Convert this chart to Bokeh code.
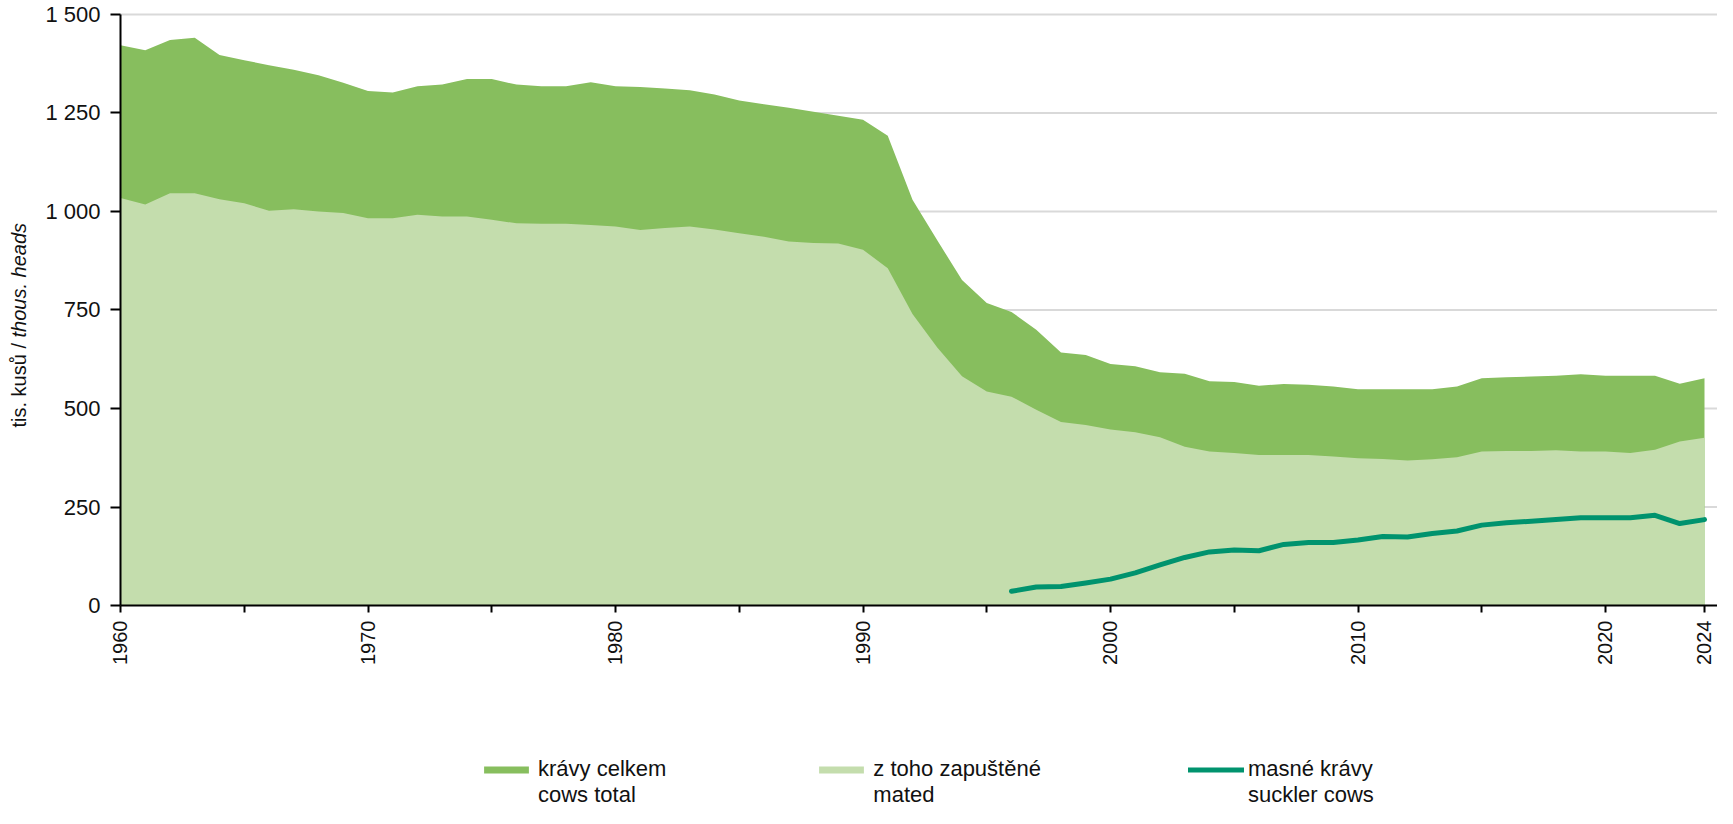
import math
from bokeh.plotting import figure
from bokeh.models import (ColumnDataSource, FixedTicker, Legend, LegendItem,
                          Range1d, Label)
from bokeh.embed import file_html
from bokeh.resources import INLINE

# ---------------- data (thousand heads) ----------------
years = list(range(1960, 2025))

cows_total = [
    1422, 1409, 1435, 1441, 1397, 1384, 1371, 1360, 1346, 1327,   # 1960-1969
    1306, 1302, 1318, 1322, 1336, 1336, 1322, 1318, 1318, 1328,   # 1970-1979
    1318, 1316, 1312, 1308, 1297, 1282, 1272, 1263, 1253, 1243,   # 1980-1989
    1233, 1192, 1030, 927, 826, 768, 745, 700, 642, 636,          # 1990-1999
    613, 607, 592, 588, 569, 567, 558, 562, 560, 556,             # 2000-2009
    549, 549, 549, 549, 556, 577, 579, 581, 583, 587,             # 2010-2019
    583, 583, 583, 563, 577,                                      # 2020-2024
]

cows_mated = [
    1034, 1018, 1046, 1046, 1031, 1021, 1002, 1006, 1000, 996,    # 1960-1969
    983, 983, 992, 987, 987, 979, 970, 969, 969, 966,             # 1970-1979
    962, 953, 958, 962, 954, 945, 936, 924, 920, 919,             # 1980-1989
    903, 856, 740, 655, 582, 543, 530, 497, 466, 458,             # 1990-1999
    447, 440, 427, 403, 391, 387, 382, 382, 382, 378,             # 2000-2009
    374, 372, 368, 371, 376, 391, 392, 392, 394, 391,             # 2010-2019
    391, 387, 395, 416, 426,                                      # 2020-2024
]

suckler_years = list(range(1996, 2025))
suckler_cows = [
    36, 47, 48, 57,                                               # 1996-1999
    67, 83, 103, 122, 136, 141, 139, 155, 160, 160,               # 2000-2009
    166, 175, 174, 183, 189, 204, 210, 214, 218, 223,             # 2010-2019
    223, 223, 229, 208, 218,                                      # 2020-2024
]

x_major_ticks = [1960, 1970, 1980, 1990, 2000, 2010, 2020, 2024]
x_minor_ticks = [1965, 1975, 1985, 1995, 2005, 2015]
y_ticks = [0, 250, 500, 750, 1000, 1250, 1500]
y_tick_labels = ["0", "250", "500", "750", "1 000", "1 250", "1 500"]

legend_labels = ["\nkrávy celkem\ncows total",
                 "\nz toho zapuštěné\nmated",
                 "\nmasné krávy\nsuckler cows"]
y_label_plain = "tis. kusů /"
y_label_italic = "thous. heads"

# ---------------- styling / layout ----------------
FONT = "Liberation Sans"
C_TOTAL = "#87BE5E"
C_MATED = "#C4DDAD"
C_SUCK = "#00936E"
C_GRID = "#D9D9D9"
TXT = "#111111"

W, H = 1717, 808            # frame = the whole canvas
PX_PER_YEAR = 24.75
LEFT_PX = 120               # room for the value axis left of the first year
x_start = years[0] - LEFT_PX / PX_PER_YEAR
x_end = x_start + W / PX_PER_YEAR

p = figure(frame_width=W, frame_height=H,
           output_backend="svg", toolbar_location=None,
           x_range=Range1d(x_start, x_end), y_range=Range1d(-515.2, 1535.5),
           min_border_left=0, min_border_right=0, min_border_top=0,
           min_border_bottom=0)
p.outline_line_color = None
p.background_fill_color = "white"
p.border_fill_color = "white"
p.xgrid.visible = False
p.ygrid.visible = False

# horizontal grid lines (under the areas), from the y ticks
grid_src = ColumnDataSource(dict(y=y_ticks[1:]))
p.segment(x0=years[0], x1=x_end, y0="y", y1="y", source=grid_src,
          line_color=C_GRID, line_width=2)

src = ColumnDataSource(dict(year=years, total=cows_total, mated=cows_mated))
r_total = p.varea(x="year", y1=0, y2="total", source=src, fill_color=C_TOTAL)
r_mated = p.varea(x="year", y1=0, y2="mated", source=src, fill_color=C_MATED)
ssrc = ColumnDataSource(dict(year=suckler_years, cows=suckler_cows))
r_line = p.line(x="year", y="cows", source=ssrc, line_color=C_SUCK,
                line_width=5, line_cap="round", line_join="round")

# x axis (drawn at value 0)
xa = p.xaxis[0]
xa.fixed_location = 0
xa.bounds = (years[0], x_end)
xa.ticker = FixedTicker(ticks=x_major_ticks, minor_ticks=x_minor_ticks)
xa.major_label_orientation = math.pi / 2
xa.major_tick_out = 7
xa.major_tick_in = 0
xa.minor_tick_out = 7
xa.minor_tick_in = 0
xa.major_tick_line_width = 2
xa.minor_tick_line_width = 2
xa.major_tick_line_color = "black"
xa.minor_tick_line_color = "black"
xa.axis_line_color = "black"
xa.axis_line_width = 2
xa.major_label_standoff = 8
xa.major_label_text_font = FONT
xa.major_label_text_font_size = "20px"
xa.major_label_text_color = TXT

# y axis (drawn at the first year)
ya = p.yaxis[0]
ya.fixed_location = years[0]
ya.bounds = (y_ticks[0], y_ticks[-1])
ya.ticker = FixedTicker(ticks=y_ticks)
ya.major_label_overrides = dict(zip(y_ticks, y_tick_labels))
ya.major_tick_out = 10
ya.major_tick_in = 0
ya.major_tick_line_width = 2
ya.major_tick_line_color = "black"
ya.minor_tick_line_color = None
ya.axis_line_color = "black"
ya.axis_line_width = 2
ya.major_label_standoff = 10
ya.major_label_text_font = FONT
ya.major_label_text_font_size = "22px"
ya.major_label_text_color = TXT

# y axis title: plain part + italic part (frame-relative screen coords)
p.add_layout(Label(x=18, y=381, x_units="screen", y_units="screen",
                   text=y_label_plain, angle=math.pi / 2, text_align="left",
                   text_baseline="middle", text_font=FONT,
                   text_font_size="20px", text_color=TXT))
p.add_layout(Label(x=18, y=471, x_units="screen", y_units="screen",
                   text=y_label_italic, angle=math.pi / 2, text_align="left",
                   text_baseline="middle", text_font=FONT,
                   text_font_size="20px", text_font_style="italic",
                   text_color=TXT))

legend = Legend(items=[LegendItem(label=legend_labels[0], renderers=[r_total]),
                       LegendItem(label=legend_labels[1], renderers=[r_mated]),
                       LegendItem(label=legend_labels[2], renderers=[r_line])],
                orientation="horizontal", location=(478, 0), spacing=147,
                glyph_width=56, glyph_height=9, label_standoff=4,
                label_text_font=FONT, label_text_font_size="22px",
                label_text_line_height=1.1, label_text_color=TXT,
                border_line_color=None, background_fill_alpha=0,
                padding=0, margin=0)
p.add_layout(legend)

open("out.html", "w").write(file_html(p, INLINE))
